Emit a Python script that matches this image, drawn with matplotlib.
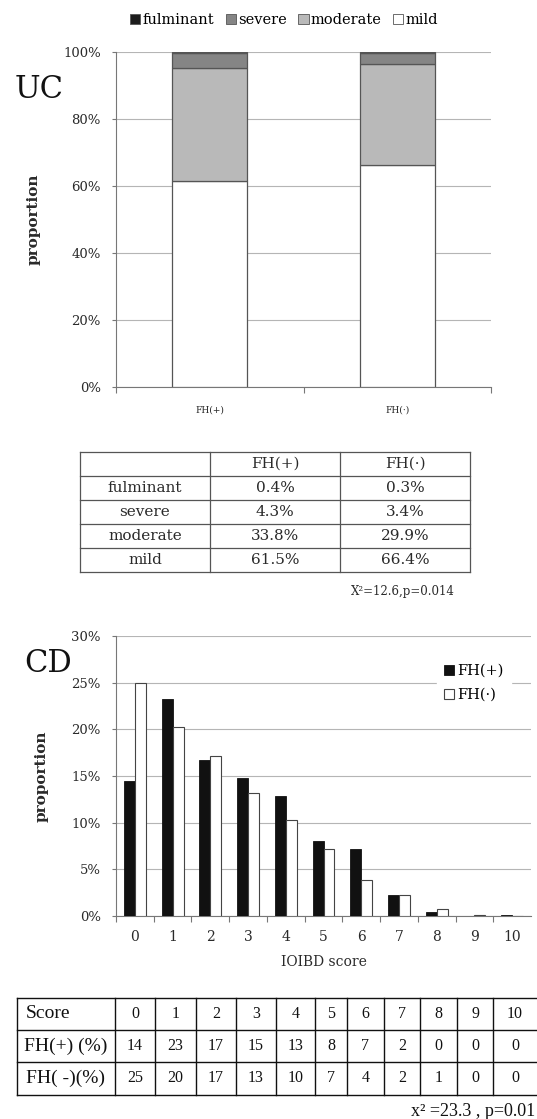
import matplotlib
matplotlib.use("Agg")
import matplotlib.pyplot as plt
from matplotlib.patches import Patch
import numpy as np

# ---------------- data ----------------
uc_groups = ["FH(+)", "FH(·)"]
uc_levels = ["fulminant", "severe", "moderate", "mild"]
uc_fulminant = [0.4, 0.3]
uc_severe = [4.3, 3.4]
uc_moderate = [33.8, 29.9]
uc_mild = [61.5, 66.4]
uc_yticks = [0, 20, 40, 60, 80, 100]
uc_table_header = ["", "FH(+)", "FH(·)"]
uc_table_pos = ["0.4%", "4.3%", "33.8%", "61.5%"]
uc_table_neg = ["0.3%", "3.4%", "29.9%", "66.4%"]
uc_stat = "X²=12.6,p=0.014"

cd_scores = [0, 1, 2, 3, 4, 5, 6, 7, 8, 9, 10]
cd_fh_pos = [14.5, 23.2, 16.7, 14.8, 12.9, 8.0, 7.2, 2.3, 0.4, 0.0, 0.1]
cd_fh_neg = [25.0, 20.2, 17.1, 13.2, 10.3, 7.2, 3.9, 2.2, 0.8, 0.15, 0.05]
cd_yticks = [0, 5, 10, 15, 20, 25, 30]
cd_table_rows = ["Score", "FH(+) (%)", "FH( -)(%)"]
cd_table_pos = [14, 23, 17, 15, 13, 8, 7, 2, 0, 0, 0]
cd_table_neg = [25, 20, 17, 13, 10, 7, 4, 2, 1, 0, 0]
cd_stat = "x² =23.3 , p=0.01"

# ---------------- figure ----------------
W, H = 537, 1119
fig = plt.figure(figsize=(W / 100, H / 100), dpi=100)
fig.patch.set_facecolor("white")
SERIF = ["DejaVu Serif"]
TIMES = ["Liberation Serif"]
TXT = "#2a2a2a"


def ax_px(l, t, r, b):
    return fig.add_axes([l / W, 1 - b / H, (r - l) / W, (b - t) / H])


# overlay for free text / tables
ov = fig.add_axes([0, 0, 1, 1], zorder=5)
ov.set_xlim(0, W)
ov.set_ylim(H, 0)
ov.axis("off")
ov.patch.set_visible(False)

# ---------------- UC stacked bar ----------------
c_ful, c_sev, c_mod, c_mild = "#1c1c1c", "#858585", "#b9b9b9", "#ffffff"
ax1 = ax_px(116, 52, 491, 387)
x = np.array([0.5, 1.5])
bw = 0.4
ec = "#555555"
b0 = np.zeros(2)
ax1.bar(x, uc_mild, bw, bottom=b0, color=c_mild, edgecolor=ec, lw=0.9, zorder=3)
b0 = b0 + np.array(uc_mild)
ax1.bar(x, uc_moderate, bw, bottom=b0, color=c_mod, edgecolor=ec, lw=0.9, zorder=3)
b0 = b0 + np.array(uc_moderate)
ax1.bar(x, uc_severe, bw, bottom=b0, color=c_sev, edgecolor=ec, lw=0.9, zorder=3)
b0 = b0 + np.array(uc_severe)
ax1.bar(x, uc_fulminant, bw, bottom=b0, color=c_ful, edgecolor=ec, lw=0.9, zorder=3)
ax1.set_xlim(0, 2)
ax1.set_ylim(0, 100)
ax1.set_yticks(uc_yticks)
ax1.set_yticklabels([f"{v}%" for v in uc_yticks], family=SERIF, fontsize=9.5, color=TXT)
ax1.set_xticks([0, 1, 2])
ax1.set_xticklabels([])
ax1.set_xticks(x, minor=True)
ax1.set_xticklabels(uc_groups, minor=True, family=SERIF, fontsize=6.5, color=TXT)
ax1.tick_params(axis="x", which="minor", length=0, pad=13)
ax1.tick_params(axis="x", which="major", length=4, color="#777777")
ax1.tick_params(axis="y", length=3, color="#777777", pad=8)
ax1.grid(axis="y", color="#b5b5b5", lw=0.8, zorder=0)
for s in ["top", "right"]:
    ax1.spines[s].set_visible(False)
for s in ["left", "bottom"]:
    ax1.spines[s].set_color("#777777")
ax1.set_ylabel("proportion", family=SERIF, fontsize=11, fontweight="bold",
               color=TXT, labelpad=16)

handles = [Patch(facecolor=c, edgecolor=ec, lw=0.6) for c in [c_ful, c_sev, c_mod, c_mild]]
fig.legend(handles, uc_levels, loc="center", bbox_to_anchor=(284 / W, 1 - 20 / H),
           ncol=4, frameon=False, handlelength=0.7, handleheight=0.7,
           handletextpad=0.15, columnspacing=0.8,
           prop={"family": SERIF, "size": 10.5})
ov.text(15, 90, "UC", family=SERIF, fontsize=22, va="center", ha="left", color="#111111")

# ---------------- UC table ----------------
tx = [80, 210, 340, 470]
ty = [452, 476, 500, 524, 548, 572]
for yy in ty:
    ov.plot([tx[0], tx[-1]], [yy, yy], color="#555555", lw=0.9)
for xx in tx:
    ov.plot([xx, xx], [ty[0], ty[-1]], color="#555555", lw=0.9)
rows = [uc_table_header] + [[lvl, p, n] for lvl, p, n in zip(uc_levels, uc_table_pos, uc_table_neg)]
for r, row in enumerate(rows):
    yc = (ty[r] + ty[r + 1]) / 2
    for c, val in enumerate(row):
        xc = (tx[c] + tx[c + 1]) / 2
        ov.text(xc, yc, val, family=SERIF, fontsize=11, ha="center", va="center", color=TXT)
ov.text(403, 591, uc_stat, family=SERIF, fontsize=8.5, ha="center", va="center", color=TXT)

# ---------------- CD grouped bar ----------------
ax2 = ax_px(116, 636, 531, 916)
xs = np.arange(len(cd_scores))
w = 0.29
ax2.bar(xs - w / 2, cd_fh_pos, w, color="#111111", edgecolor="#111111", lw=0.6,
        zorder=3, label="FH(+)")
ax2.bar(xs + w / 2, cd_fh_neg, w, color="white", edgecolor="#444444", lw=0.8,
        zorder=3, label="FH(·)")
ax2.set_xlim(-0.5, len(cd_scores) - 0.5)
ax2.set_ylim(0, 30)
ax2.set_yticks(cd_yticks)
ax2.set_yticklabels([f"{v}%" for v in cd_yticks], family=SERIF, fontsize=9.5, color=TXT)
ax2.set_xticks(xs - 0.5, minor=False)
ax2.set_xticklabels([])
ax2.set_xticks(xs, minor=True)
ax2.set_xticklabels([str(s) for s in cd_scores], minor=True, family=SERIF,
                    fontsize=10, color=TXT)
ax2.tick_params(axis="x", which="minor", length=0, pad=10)
ax2.tick_params(axis="x", which="major", length=4, color="#777777")
ax2.tick_params(axis="y", length=3, color="#777777", pad=8)
ax2.grid(axis="y", color="#b5b5b5", lw=0.8, zorder=0)
for s in ["top", "right"]:
    ax2.spines[s].set_visible(False)
for s in ["left", "bottom"]:
    ax2.spines[s].set_color("#777777")
ax2.set_ylabel("proportion", family=SERIF, fontsize=11, fontweight="bold",
               color=TXT, labelpad=16)
ax2.set_xlabel("IOIBD score", family=SERIF, fontsize=10, color=TXT, labelpad=8)
leg = ax2.legend(loc="center", bbox_to_anchor=((474 - 116) / 415, (916 - 683) / 280),
                 frameon=True, facecolor="white", edgecolor="white", framealpha=1,
                 handlelength=0.7, handleheight=0.7, handletextpad=0.2,
                 labelspacing=0.7, borderpad=0.5,
                 prop={"family": SERIF, "size": 10.5})
leg.set_zorder(10)
ov.text(24, 663, "CD", family=SERIF, fontsize=22, va="center", ha="left", color="#111111")

# ---------------- CD table ----------------
cx = [17, 115, 155, 196, 236, 276, 315, 347, 384, 420, 457, 493, 537]
cy = [998, 1030, 1062, 1095]
for yy in cy:
    ov.plot([cx[0], cx[-1]], [yy, yy], color="#111111", lw=1.0)
for xx in cx[:-1]:
    ov.plot([xx, xx], [cy[0], cy[-1]], color="#111111", lw=1.0)
table_rows = [cd_scores, cd_table_pos, cd_table_neg]
for r, (lab, vals) in enumerate(zip(cd_table_rows, table_rows)):
    yc = (cy[r] + cy[r + 1]) / 2
    ov.text(cx[0] + 9 if r == 0 else (cx[0] + cx[1]) / 2, yc, lab, family=TIMES,
            fontsize=14, ha="left" if r == 0 else "center", va="center", color="#111111")
    for c, v in enumerate(vals):
        xc = (cx[c + 1] + cx[c + 2]) / 2
        ov.text(xc, yc, str(v), family=TIMES, fontsize=11.5, ha="center",
                va="center", color="#111111")
ov.text(535, 1112, cd_stat, family=TIMES, fontsize=13, ha="right", va="center",
        color="#111111")

fig.savefig("out.png", dpi=100)
